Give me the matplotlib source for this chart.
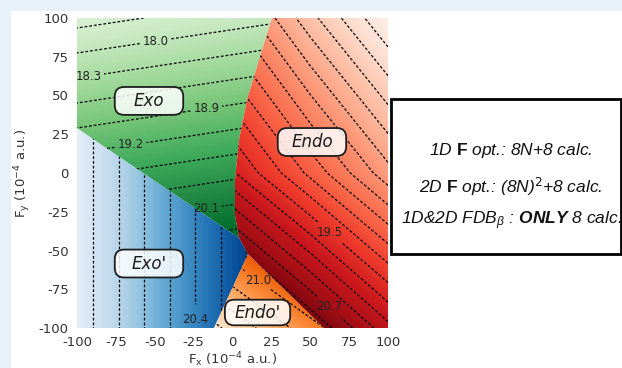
import matplotlib

matplotlib.use("Agg")

import matplotlib.pyplot as plt
import numpy as np
from matplotlib.patches import FancyBboxPatch, Polygon, Rectangle

plt.rcParams["axes.unicode_minus"] = False
plt.rcParams["mathtext.fontset"] = "custom"
plt.rcParams["mathtext.rm"] = "DejaVu Sans"
plt.rcParams["mathtext.it"] = "Liberation Sans:italic"
plt.rcParams["mathtext.bf"] = "Liberation Sans:bold"
plt.rcParams["mathtext.bfit"] = "Liberation Sans:italic:bold"

ticks = [-100, -75, -50, -25, 0, 25, 50, 75, 100]

# barrier grids per pathway (rows: increasing Fy, cols: increasing Fx)
exo_fx = [-100, 100]
exo_fy = [-100, 100]
exo_barrier = [[21.30, 21.86], [17.58, 18.14]]

exo2_fx = [-100, 100]
exo2_fy = [-100, 100]
exo2_barrier = [[19.01, 22.67], [19.01, 22.67]]

endo_fx = [0, 50, 100]
endo_fy = [-100, 0, 100]
endo_barrier = [[22.4, 21.3, 20.2], [19.84, 18.82, 17.81], [18.3, 17.2, 16.2]]

endo2_fx = [-20, 60]
endo2_fy = [-100, -50]
endo2_barrier = [[19.92, 21.01], [20.87, 21.95]]

# region borders
exo_endo_fx = [25.4, 19.0, 9.3, 4.2, 1.6, 1.6, 4.2]
exo_endo_fy = [100, 79.4, 47.1, 21.3, -4.5, -27.1, -41.9]
exo_exo2_fx = [-100, 4.2]
exo_exo2_fy = [29.0, -41.9]
exo2_endo_fx = [4.2, 10.0]
exo2_endo_fy = [-41.9, -52.3]
endo_endo2_fx = [10.0, 37.0, 58.8]
endo_endo2_fy = [-52.3, -78.7, -100]
exo2_endo2_fx = [10.0, -11.9]
exo2_endo2_fy = [-52.3, -100]

# contour label spots
exo_labels = [(-49.8, 87.1), (-92.9, 63.2), (-17.7, 47.1), (-65.9, 20.0), (-17.7, -18.7)]
exo2_labels = [(-19.0, -94.8)]
endo_labels = [(62.7, -38.1), (61.4, -87.1)]
endo2_labels = [(16.4, -69.0)]

box_names = ["Exo", "Endo", "Exo'", "Endo'"]
box_fx = [-53.7, 51.1, -53.7, 16.1]
box_fy = [46.5, 20.0, -58.4, -90.0]

info_lines = [
    r"1D $\mathbf{F}$ opt.: 8N+8 calc.",
    r"2D $\mathbf{F}$ opt.: (8N)$^{2}$+8 calc.",
    r"1D&2D FDB$_{\beta}$ : $\mathbfit{ONLY}$ 8 calc.",
]

levels = np.round(np.arange(15.9, 22.8, 0.3), 1)

exo_poly = list(zip([-100] + exo_endo_fx + [-100], [100] + exo_endo_fy + [29.0]))
exo2_poly = list(zip(exo_exo2_fx + exo2_endo_fx[1:] + exo2_endo2_fx[1:] + [-100],
                     exo_exo2_fy + exo2_endo_fy[1:] + exo2_endo2_fy[1:] + [-100]))
endo2_poly = list(zip(endo_endo2_fx + exo2_endo2_fx[:0:-1], endo_endo2_fy + exo2_endo2_fy[:0:-1]))
endo_poly = list(zip([100, 100] + endo_endo2_fx[::-1] + exo_endo_fx[::-1],
                     [100, -100] + endo_endo2_fy[::-1] + exo_endo_fy[::-1]))

fig = plt.figure(figsize=(6.22, 3.68), dpi=100)
fig.patch.set_facecolor("#e8f0f8")
fig.add_artist(Rectangle((11 / 622, 0), 1, 357 / 368, transform=fig.transFigure,
                         facecolor="white", edgecolor="none", zorder=-2))

ax = fig.add_axes([77 / 622, 40 / 368, 311 / 622, 310 / 368])
ax.set_xlim(-100, 100)
ax.set_ylim(-100, 100)


def draw_region(fx, fy, barrier, poly, cmap, vmin, vmax):
    fx = np.asarray(fx, dtype=float)
    fy = np.asarray(fy, dtype=float)
    z = np.asarray(barrier, dtype=float)
    hx = (fx[-1] - fx[0]) / (len(fx) - 1) / 2
    hy = (fy[-1] - fy[0]) / (len(fy) - 1) / 2
    patch = Polygon(poly, closed=True, facecolor="none", edgecolor="none")
    ax.add_patch(patch)
    im = ax.imshow(z, origin="lower", extent=[fx[0] - hx, fx[-1] + hx, fy[0] - hy, fy[-1] + hy],
                   cmap=cmap, vmin=vmin, vmax=vmax, interpolation="bilinear",
                   interpolation_stage="data", aspect="auto")
    im.set_clip_path(patch)
    cs = ax.contour(fx, fy, z, levels=levels, colors="black", linewidths=0.9)
    cs.set_linestyle((0, (2.2, 1.6)))
    cs.set_clip_path(patch)
    return cs


cs_exo2 = draw_region(exo2_fx, exo2_fy, exo2_barrier, exo2_poly, "Blues", 18.8, 21.2)
cs_exo = draw_region(exo_fx, exo_fy, exo_barrier, exo_poly, "Greens", 16.9, 20.9)
cs_endo2 = draw_region(endo2_fx, endo2_fy, endo2_barrier, endo2_poly, "Oranges", 19.8, 21.9)
cs_endo = draw_region(endo_fx, endo_fy, endo_barrier, endo_poly, "Reds", 16.0, 21.3)

for cs, spots in [(cs_exo, exo_labels), (cs_exo2, exo2_labels), (cs_endo, endo_labels), (cs_endo2, endo2_labels)]:
    ax.clabel(cs, manual=spots, fmt="%.1f", fontsize=8.5, inline=True, inline_spacing=3, colors="#222222")
    for t in cs.labelTexts:
        t.set_rotation(0)

for name, x, y in zip(box_names, box_fx, box_fy):
    w, h = (42, 16.5) if name == "Endo'" else (44, 18)
    ax.add_patch(FancyBboxPatch((x - w / 2, y - h / 2), w, h, boxstyle="round,pad=0,rounding_size=6",
                                facecolor=(1, 1, 1, 0.85), edgecolor="#1e1e1e", linewidth=1.3, zorder=5))
    ax.text(x, y, name, ha="center", va="center", fontsize=12, fontstyle="italic", color="#1a1a1a", zorder=6)

ax.set_xticks(ticks)
ax.set_yticks(ticks)
ax.tick_params(length=0, labelsize=9.5, pad=6, labelcolor="#333333")
for spine in ax.spines.values():
    spine.set_visible(False)
ax.set_xlabel(r"F$_\mathrm{x}$ (10$^{-4}$ a.u.)", fontsize=9.5, color="#333333", labelpad=1)
ax.set_ylabel(r"F$_\mathrm{y}$ (10$^{-4}$ a.u.)", fontsize=9.5, color="#333333", labelpad=4)

fig.add_artist(Rectangle((391 / 622, 114 / 368), 230 / 622, 155 / 368, transform=fig.transFigure,
                         facecolor="white", edgecolor="black", linewidth=2))
for line, y in zip(info_lines, [0.5897, 0.4918, 0.3995]):
    fig.text(511 / 622, y, line, ha="center", va="center", fontsize=12.5,
             fontfamily="Liberation Sans", fontstyle="italic", color="#111111")

fig.savefig("out.png", dpi=100)
